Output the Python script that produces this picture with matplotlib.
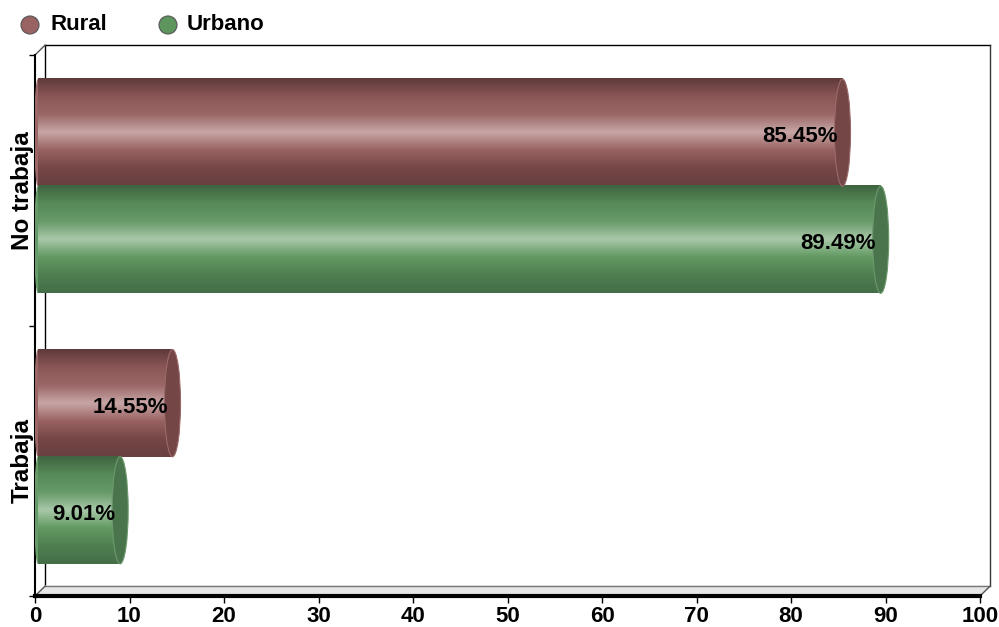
import numpy as np
import matplotlib.pyplot as plt
from matplotlib.colors import LinearSegmentedColormap
from matplotlib.patches import Ellipse

plt.rcParams['font.family'] = ['Liberation Sans', 'DejaVu Sans']

# datos
categorias = ['No trabaja', 'Trabaja']
series = ['Rural', 'Urbano']
rural = [85.45, 14.55]
urbano = [89.49, 9.01]
ticks_x = [0, 10, 20, 30, 40, 50, 60, 70, 80, 90, 100]

# degradados para simular cilindros (de arriba hacia abajo)
colores = {
    'Rural': ['#5f3a3a', '#8a5656', '#9a6666', '#c8a6a6', '#9a6262', '#754646', '#6a4040'],
    'Urbano': ['#3f6440', '#568a58', '#679a69', '#a8c8a8', '#629962', '#4f7f51', '#456e47'],
}
tapas = {'Rural': '#744646', 'Urbano': '#4a754c'}
borde_tapa = {'Rural': '#9a6a6a', 'Urbano': '#6c9a6c'}
legend_col = {'Rural': '#9a6363', 'Urbano': '#5e955e'}

fig = plt.figure(figsize=(9.99, 6.27), dpi=100)
ax = fig.add_axes([35 / 999, 1 - 596 / 627, 945 / 999, 541 / 627])
ax.set_xlim(0, 100)
ax.set_ylim(1.5, -0.5)

alto = 0.396
desfase = -0.015
dx, dy = 1.05, -0.036

# pared del fondo y piso
ax.plot([dx, 100 + dx], [-0.5 + dy, -0.5 + dy], color='black', lw=1, clip_on=False, zorder=1)
ax.plot([dx, dx], [-0.5 + dy, 1.5 + dy], color='black', lw=1, clip_on=False, zorder=1)
ax.plot([100 + dx, 100 + dx], [-0.5 + dy, 1.5 + dy], color='#333333', lw=1, clip_on=False, zorder=1)
ax.fill([0, 100, 100 + dx, dx], [1.5, 1.5, 1.5 + dy, 1.5 + dy], color='#e6e6e6', clip_on=False, zorder=1)
ax.plot([dx, 100 + dx], [1.5 + dy, 1.5 + dy], color='#777777', lw=1, clip_on=False, zorder=1)
ax.plot([0, dx], [-0.5, -0.5 + dy], color='#555555', lw=1, clip_on=False, zorder=1)
ax.plot([0, dx], [1.5, 1.5 + dy], color='#555555', lw=1, clip_on=False, zorder=1)
ax.plot([100, 100 + dx], [1.5, 1.5 + dy], color='#555555', lw=1, clip_on=False, zorder=1)


def cilindro(valor, y0, nombre):
    cmap = LinearSegmentedColormap.from_list(nombre, colores[nombre])
    grad = np.linspace(0, 1, 200).reshape(-1, 1)
    ax.imshow(grad, cmap=cmap, aspect='auto', extent=[0.3, valor, y0 + alto, y0],
              interpolation='bicubic', zorder=3)
    ax.add_patch(Ellipse((0.3, y0 + alto / 2), 0.8, alto, facecolor=colores[nombre][2],
                         edgecolor='none', zorder=2.9))
    ax.add_patch(Ellipse((valor, y0 + alto / 2), 1.7, alto, facecolor=tapas[nombre],
                         edgecolor=borde_tapa[nombre], lw=0.8, zorder=4))
    ax.text(valor - 0.5, y0 + alto / 2 + 0.015, f'{valor:.2f}%', ha='right', va='center',
            fontsize=16, fontweight='bold', color='black', zorder=5)


for i in range(len(categorias)):
    cilindro(rural[i], i - alto + desfase, 'Rural')
    cilindro(urbano[i], i + desfase, 'Urbano')

# ejes
for lado in ['top', 'right']:
    ax.spines[lado].set_visible(False)
ax.spines['bottom'].set_linewidth(3)
ax.spines['left'].set_linewidth(1.5)
ax.set_xticks(ticks_x)
ax.set_xticklabels([str(t) for t in ticks_x], fontsize=16, fontweight='bold')
ax.tick_params(axis='x', length=5, width=1, pad=2)
ax.set_yticks([-0.5, 0.5, 1.5])
ax.set_yticklabels([])
ax.tick_params(axis='y', length=4, width=1)
for i, c in enumerate(categorias):
    ax.text(-1.3, i, c, rotation=90, ha='center', va='center', fontsize=17.5,
            fontweight='bold', clip_on=False)

# leyenda
for nombre, xc, xt in [('Rural', 30, 50), ('Urbano', 168, 187)]:
    fig.add_artist(Ellipse((xc / 999, 1 - 25 / 627), 18 / 999, 18 / 627, transform=fig.transFigure,
                           facecolor=legend_col[nombre], edgecolor='#555555', lw=0.8))
    fig.text(xt / 999, 1 - 25 / 627, nombre, ha='left', va='center', fontsize=16, fontweight='bold')

fig.savefig('out.png', dpi=100)
